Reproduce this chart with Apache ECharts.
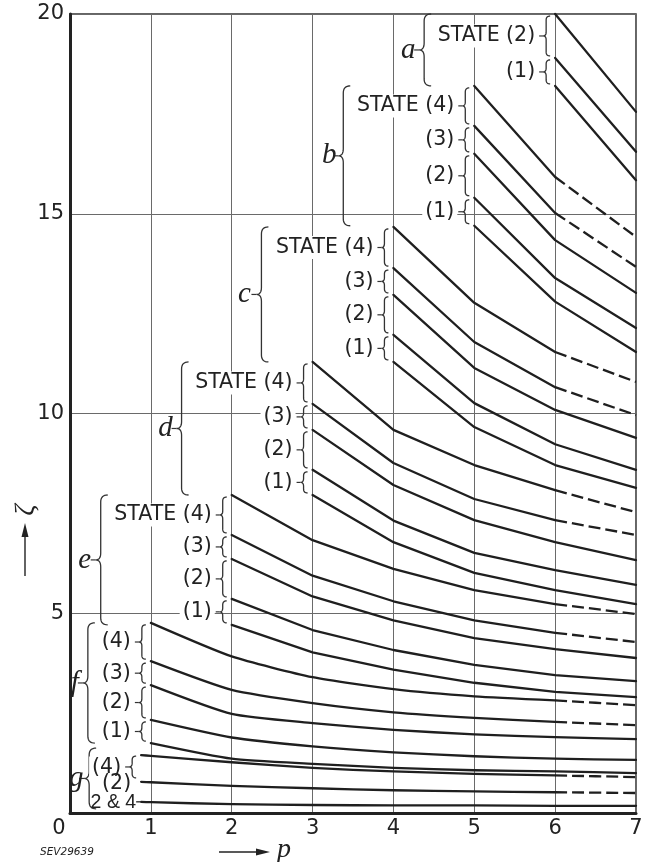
<!DOCTYPE html>
<html>
<head>
<meta charset="utf-8">
<script src="https://cdn.jsdelivr.net/npm/echarts@6.0.0/dist/echarts.min.js"></script>
<style>
html,body{margin:0;padding:0;background:#fff;}
#chart{width:646px;height:862px;}
</style>
</head>
<body>
<div id="chart"></div>
<script>
// ---------------- data ----------------
const pTicks = [0, 1, 2, 3, 4, 5, 6, 7];
const zetaTicks = [0, 5, 10, 15, 20];

const pA = [6, 7];
const curvesA = [[20.0, 17.55], [18.9, 16.55], [18.2, 15.84]];
const labelsA = ['STATE (2)', '(1)'];

const pB = [5, 6, 7];
const curvesB = [
  [18.2, 15.92, 14.42],
  [17.2, 15.02, 13.67],
  [16.5, 14.34, 13.02],
  [15.4, 13.39, 12.14],
  [14.7, 12.80, 11.54]
];
const labelsB = ['STATE (4)', '(3)', '(2)', '(1)'];

const pC = [4, 5, 6, 7];
const curvesC = [
  [14.67, 12.77, 11.54, 10.79],
  [13.64, 11.79, 10.66, 9.96],
  [12.97, 11.14, 10.09, 9.39],
  [11.97, 10.26, 9.23, 8.59],
  [11.29, 9.66, 8.71, 8.14]
];
const labelsC = ['STATE (4)', '(3)', '(2)', '(1)'];

const pD = [3, 4, 5, 6, 7];
const curvesD = [
  [11.29, 9.59, 8.71, 8.08, 7.53],
  [10.24, 8.76, 7.86, 7.33, 6.96],
  [9.59, 8.21, 7.33, 6.78, 6.33],
  [8.59, 7.32, 6.51, 6.08, 5.71],
  [7.96, 6.78, 6.01, 5.58, 5.23]
];
const labelsD = ['STATE (4)', '(3)', '(2)', '(1)'];

const pE = [2, 3, 4, 5, 6, 7];
const curvesE = [
  [7.96, 6.83, 6.11, 5.58, 5.23, 4.98],
  [6.96, 5.94, 5.30, 4.82, 4.51, 4.28],
  [6.36, 5.42, 4.82, 4.38, 4.10, 3.88],
  [5.36, 4.58, 4.08, 3.71, 3.45, 3.30],
  [4.71, 4.02, 3.59, 3.26, 3.03, 2.90]
];
const labelsE = ['STATE (4)', '(3)', '(2)', '(1)'];

const pF = [1, 2, 3, 4, 5, 6, 7];
const curvesF = [
  [4.76, 3.92, 3.40, 3.10, 2.92, 2.82, 2.70],
  [3.80, 3.08, 2.75, 2.52, 2.38, 2.28, 2.20],
  [3.20, 2.48, 2.25, 2.08, 1.97, 1.90, 1.85],
  [2.33, 1.89, 1.67, 1.52, 1.42, 1.36, 1.33],
  [1.75, 1.36, 1.23, 1.13, 1.07, 1.04, 1.00]
];
const labelsF = ['(4)', '(3)', '(2)', '(1)'];

const pG = [0.88, 1, 2, 3, 4, 5, 6, 7];
const curvesG = [
  [1.45, 1.43, 1.27, 1.13, 1.04, 0.98, 0.94, 0.90],
  [0.78, 0.77, 0.68, 0.62, 0.57, 0.54, 0.52, 0.50],
  [0.28, 0.27, 0.22, 0.20, 0.19, 0.19, 0.18, 0.18]
];
const labelsG = ['(4)', '(2)', '2 & 4'];

const groupLetters = ['a', 'b', 'c', 'd', 'e', 'f', 'g'];
const dashedCounts = [0, 2, 2, 2, 2, 2, 2];   // upper curves of each family dashed beyond p = 6
const dashFrom = 6;

// ---------------- chart ----------------
const groups = [
  {p: pA, curves: curvesA, labels: labelsA},
  {p: pB, curves: curvesB, labels: labelsB},
  {p: pC, curves: curvesC, labels: labelsC},
  {p: pD, curves: curvesD, labels: labelsD},
  {p: pE, curves: curvesE, labels: labelsE},
  {p: pF, curves: curvesF, labels: labelsF},
  {p: pG, curves: curvesG, labels: labelsG}
];
const smoothness = {a: false, b: false, c: false, d: false, e: false, f: 0.2, g: 0.2};
groups.forEach((g, i) => { g.letter = groupLetters[i]; g.dashed = dashedCounts[i]; });

const INK = '#1f1f1f';
const series = [];
groups.forEach(g => {
  g.curves.forEach((vals, i) => {
    const pts = g.p.map((x, j) => [x, vals[j]]);
    const isDashed = i < g.dashed;
    const solid = isDashed ? pts.filter(pt => pt[0] <= dashFrom) : pts;
    const base = {type: 'line', symbol: 'none', silent: true, animation: false, z: 3, clip: false,
                  smooth: smoothness[g.letter]};
    series.push(Object.assign({}, base, {data: solid, lineStyle: {color: INK, width: 2.3, cap: 'round', join: 'round'}}));
    if (isDashed) {
      series.push(Object.assign({}, base, {data: pts.filter(pt => pt[0] >= dashFrom),
        lineStyle: {color: INK, width: 2.3, type: [12, 5]}}));
    }
  });
});

const chart = echarts.init(document.getElementById('chart'), null, {renderer: 'canvas'});
const axisFont = {fontFamily: 'DejaVu Sans', fontSize: 21, color: '#222'};
chart.setOption({
  backgroundColor: '#fff',
  animation: false,
  grid: {left: 70, top: 14, width: 566, height: 799, show: true, borderColor: '#333', borderWidth: 1.5,
         backgroundColor: 'transparent', containLabel: false, outerBoundsMode: 'none'},
  xAxis: {
    type: 'value', min: 0, max: 7, interval: 1,
    axisLine: {show: true, onZero: false, lineStyle: {color: '#222', width: 3}},
    axisTick: {show: false},
    splitLine: {show: true, lineStyle: {color: '#6a6a6a', width: 1}},
    axisLabel: Object.assign({showMinLabel: false, margin: 5,
      formatter: v => pTicks.indexOf(v) >= 0 ? String(v) : ''}, axisFont)
  },
  yAxis: {
    type: 'value', min: 0, max: 20, interval: 5,
    axisLine: {show: true, onZero: false, lineStyle: {color: '#222', width: 3}},
    axisTick: {show: false},
    splitLine: {show: true, lineStyle: {color: '#6a6a6a', width: 1}},
    axisLabel: Object.assign({showMinLabel: false, margin: 6,
      formatter: v => zetaTicks.indexOf(v) >= 0 ? String(v) : ''}, axisFont)
  },
  series: series
});

// ---------------- annotations (positioned from the data via the axes) ----------------
const toPx = (x, y) => chart.convertToPixel({xAxisIndex: 0, yAxisIndex: 0}, [x, y]);
const LABEL_FONT = '20.5px "DejaVu Sans"';
const LETTER_FONT = 'italic 29px "Liberation Serif"';
const BRACE_STYLE = {stroke: '#333', lineWidth: 1.3, fill: 'none'};

function bracePts(xt, y1, y2, w, pw) {
  const xs = xt - w, xp = xs - pw, ym = (y1 + y2) / 2;
  const r = Math.min(w, (y2 - y1) / 4);
  const pts = [];
  const q = (a, b, c) => {
    for (let k = 0; k <= 8; k++) {
      const t = k / 8, u = 1 - t;
      pts.push([u * u * a[0] + 2 * u * t * b[0] + t * t * c[0], u * u * a[1] + 2 * u * t * b[1] + t * t * c[1]]);
    }
  };
  q([xt, y1], [xs, y1], [xs, y1 + r]);
  q([xs, ym - r], [xs, ym], [xp, ym]);
  q([xp, ym], [xs, ym], [xs, ym + r]);
  q([xs, y2 - r], [xs, y2], [xt, y2]);
  return {pts: pts, xp: xp, ym: ym};
}
function brace(xt, y1, y2, w, pw, tick, lw) {
  const b = bracePts(xt, y1, y2, w, pw);
  const els = [{type: 'polyline', z: 15, silent: true, shape: {points: b.pts}, style: Object.assign({}, BRACE_STYLE, {lineWidth: lw || 1.3})}];
  if (tick > 0) {
    els.push({type: 'line', z: 15, silent: true, shape: {x1: b.xp, y1: b.ym, x2: b.xp - tick, y2: b.ym}, style: {stroke: '#333', lineWidth: 1.2}});
  }
  return {els: els, tipX: b.xp - tick, ym: b.ym};
}
function txt(x, y, s, font, align, bg, rot) {
  const st = {text: s, font: font, fill: '#222', align: align, textAlign: align,
              verticalAlign: 'middle', textVerticalAlign: 'middle'};
  if (bg) { st.backgroundColor = '#fff'; st.padding = [1, 3]; }
  const el = {type: 'text', x: x, y: y, z: 20, silent: true, style: st};
  if (rot) el.rotation = rot;
  return el;
}

// horizontal layout offsets (pixels, relative to each family's first p)
const bigSpineOff = {a: -131, b: -131, c: -132, d: -131, e: -131, f: -63, g: -52};
const letterOff = {a: -147, b: -145, c: -149, d: -147, e: -147, f: -76, g: -65};
const bigPadTop = {a: 0, b: 0, c: 0, d: 0, e: 0, f: 0, g: 7};
const bigPadBot = {a: 0, b: 0, c: 0, d: 0, e: 0, f: 0, g: 7};

const gfx = [];
groups.forEach(g => {
  const p0 = g.p[0];
  const sx = toPx(p0, 0)[0];
  const ys = g.curves.map(c => toPx(p0, c[0])[1]);
  if (g.letter !== 'g') {
    g.labels.forEach((lab, i) => {
      const b = brace(sx - 5, ys[i] + 2, ys[i + 1] - 2, 4, 3, 4);
      gfx.push(...b.els);
      gfx.push(txt(b.tipX - 1, b.ym, lab, LABEL_FONT, 'right', true));
    });
  } else {
    const b = brace(sx - 5, ys[0] + 1, ys[1] - 4, 4, 3, 4);
    gfx.push(...b.els);
    gfx.push(txt(b.tipX - 1, b.ym + 1, g.labels[0], LABEL_FONT, 'right', true));
    gfx.push(txt(sx - 10, ys[1] + 2, g.labels[1], LABEL_FONT, 'right', false));
    gfx.push({type: 'line', z: 15, silent: true, shape: {x1: sx - 5, y1: ys[2], x2: sx, y2: ys[2]}, style: {stroke: '#333', lineWidth: 1.4}});
    gfx.push(txt(sx - 5, ys[2] + 1, g.labels[2], '19.5px "Liberation Sans"', 'right', false));
  }
  // family brace + letter
  const spine = sx + bigSpineOff[g.letter];
  const top = ys[0] - bigPadTop[g.letter], bot = ys[ys.length - 1] + bigPadBot[g.letter];
  const B = brace(spine + 7, top, bot, 7, 5, 5, 1.3);
  gfx.push(...B.els);
  gfx.push(txt(sx + letterOff[g.letter], B.ym, g.letter, LETTER_FONT, 'center', false));
});

// axis decorations
const o = toPx(0, 0);
gfx.push(txt(o[0] - 11, o[1] + 16, '0', '21px "DejaVu Sans"', 'center', false));
// vertical axis name: arrow + zeta
gfx.push({type: 'line', z: 15, silent: true, shape: {x1: 25, y1: 576, x2: 25, y2: 534}, style: {stroke: '#222', lineWidth: 1.4}});
gfx.push({type: 'polygon', z: 15, silent: true, shape: {points: [[25, 523], [21.5, 537], [28.5, 537]]}, style: {fill: '#222'}});
gfx.push(txt(26, 510, 'ζ', 'italic 28px "Liberation Serif"', 'center', false, Math.PI / 2));
// horizontal axis name: arrow + p
gfx.push({type: 'line', z: 15, silent: true, shape: {x1: 219, y1: 852, x2: 258, y2: 852}, style: {stroke: '#222', lineWidth: 1.4}});
gfx.push({type: 'polygon', z: 15, silent: true, shape: {points: [[270, 852], [256, 848.5], [256, 855.5]]}, style: {fill: '#222'}});
gfx.push(txt(284, 850, 'p', 'italic 28px "Liberation Serif"', 'center', false));
// figure code
gfx.push(txt(40, 852, 'SEV29639', 'italic 10.5px "DejaVu Sans"', 'left', false));

chart.setOption({graphic: {elements: gfx}});
</script>
</body>
</html>
